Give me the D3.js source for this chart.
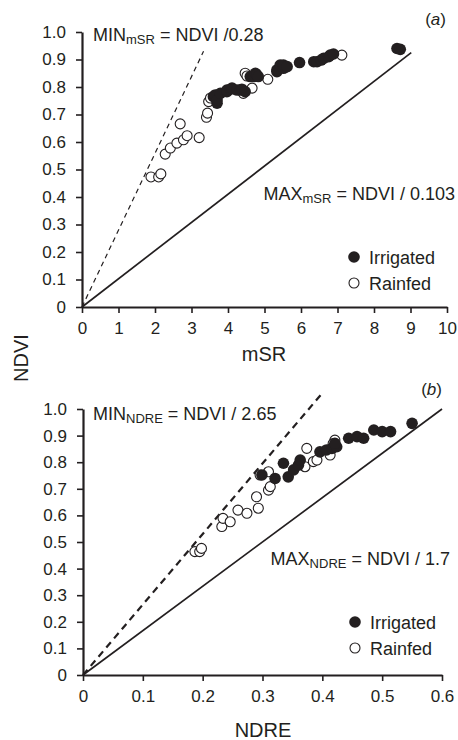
<!DOCTYPE html>
<html>
<head>
<meta charset="utf-8">
<script src="https://cdn.jsdelivr.net/npm/d3@7"></script>
<style>
  body { margin: 0; background: #fff; }
  svg text { font-family: "Liberation Sans", Arial, Helvetica, sans-serif; fill: #231f20; }
  .axis path, .axis line { stroke: #231f20; }
</style>
</head>
<body>
<div id="chart"></div>
<script>
// ---- panel (a): mSR vs NDVI ----
const irrigatedA = [
  [3.60,0.765],[3.65,0.771],[3.70,0.741],[3.70,0.753],[3.79,0.777],[3.97,0.783],[3.97,0.789],
  [4.07,0.792],[4.11,0.796],[4.25,0.789],[4.34,0.789],[4.38,0.792],[4.47,0.783],[4.61,0.838],
  [4.70,0.838],[4.75,0.850],[4.79,0.844],[4.83,0.838],[5.34,0.856],[5.34,0.862],[5.43,0.880],
  [5.52,0.868],[5.52,0.880],[5.62,0.874],[5.96,0.889],[6.35,0.892],[6.44,0.892],[6.55,0.898],
  [6.62,0.904],[6.76,0.910],[6.80,0.916],[6.89,0.920],[8.63,0.940],[8.72,0.937]
];
const rainfedA = [
  [1.89,0.473],[2.10,0.473],[2.16,0.484],[2.28,0.556],[2.42,0.578],[2.60,0.596],[2.78,0.608],
  [2.88,0.623],[3.21,0.616],[2.69,0.666],[3.41,0.690],[3.44,0.705],[3.47,0.747],[3.52,0.760],
  [4.42,0.777],[4.47,0.850],[4.66,0.796],[5.09,0.828],[7.12,0.916],[4.52,0.840]
];
const minLineA = [[0,0],[3.33,0.93]];
const maxLineA = [[0,0],[9.02,0.925]];
const xTicksA = [0,1,2,3,4,5,6,7,8,9,10];

// ---- panel (b): NDRE vs NDVI ----
const irrigatedB = [
  [0.299,0.752],[0.321,0.739],[0.335,0.796],[0.343,0.745],[0.352,0.771],[0.360,0.789],[0.363,0.808],
  [0.396,0.839],[0.407,0.846],[0.416,0.852],[0.424,0.858],[0.421,0.871],[0.444,0.890],[0.458,0.896],
  [0.469,0.890],[0.486,0.921],[0.500,0.915],[0.514,0.915],[0.550,0.946]
];
const rainfedB = [
  [0.187,0.464],[0.195,0.464],[0.198,0.476],[0.232,0.558],[0.234,0.589],[0.246,0.576],[0.259,0.620],
  [0.274,0.608],[0.293,0.627],[0.290,0.670],[0.310,0.695],[0.313,0.708],[0.296,0.752],[0.310,0.764],
  [0.371,0.783],[0.374,0.852],[0.385,0.802],[0.391,0.808],[0.413,0.827],[0.421,0.883],[0.418,0.870]
];
const minLineB = [[0,0],[0.40,1.06]];
const maxLineB = [[0,0],[0.60,1.0]];
const xTicksB = [0,0.1,0.2,0.3,0.4,0.5,0.6];

const yTicks = [0,0.1,0.2,0.3,0.4,0.5,0.6,0.7,0.8,0.9,1.0];

const svg = d3.select("#chart").append("svg")
    .attr("width", 458)
    .attr("height", 740);

const yFmt = d => d === 0 ? "0" : d3.format(".1f")(d);
const xFmtB = d => d === 0 ? "0" : d3.format(".1f")(d);

const rFilled = 5.8, rOpen = 5.0;

function drawPanel(p) {
    let x = d3.scaleLinear().domain(p.xDomain).range(p.xRange);
    let y = d3.scaleLinear().domain([0, 1]).range(p.yRange);

    let g = svg.append("g");

    // axes
    let xAxis = d3.axisBottom(x).tickValues(p.xTicks).tickFormat(p.xFmt)
        .tickSize(6).tickSizeOuter(0).tickPadding(9);
    let yAxis = d3.axisLeft(y).tickValues(yTicks).tickFormat(yFmt)
        .tickSize(6).tickSizeOuter(0).tickPadding(10);

    g.append("g").attr("class", "axis")
        .attr("transform", "translate(0," + p.yRange[0] + ")")
        .call(xAxis);
    g.append("g").attr("class", "axis")
        .attr("transform", "translate(" + p.xRange[0] + ",0)")
        .call(yAxis);

    g.selectAll(".axis path").attr("stroke-width", 2.2);
    g.selectAll(".axis line").attr("stroke-width", 1.6);
    g.selectAll(".axis text").attr("font-size", 17).attr("fill", "#231f20")
        .attr("font-family", "'Liberation Sans', Arial, sans-serif");

    // reference lines
    let line = d3.line().x(d => x(d[0])).y(d => y(d[1]));
    g.append("path").datum(p.maxLine)
        .attr("d", line).attr("fill", "none")
        .attr("stroke", "#231f20").attr("stroke-width", 1.7);
    g.append("path").datum(p.minLine)
        .attr("d", line).attr("fill", "none")
        .attr("stroke", "#231f20").attr("stroke-width", p.dashWidth)
        .attr("stroke-dasharray", p.dash);

    // points
    g.selectAll(".rain").data(p.rainfed).enter().append("circle")
        .attr("cx", d => x(d[0])).attr("cy", d => y(d[1])).attr("r", rOpen)
        .attr("fill", "#fff").attr("stroke", "#231f20").attr("stroke-width", 1.1);
    g.selectAll(".irr").data(p.irrigated).enter().append("circle")
        .attr("cx", d => x(d[0])).attr("cy", d => y(d[1])).attr("r", rFilled)
        .attr("fill", "#231f20");

    // annotations
    let minT = g.append("text").attr("x", p.minPos[0]).attr("y", p.minPos[1]).attr("font-size", 18);
    minT.append("tspan").text("MIN");
    minT.append("tspan").attr("font-size", 13).attr("dy", 3).text(p.sub);
    minT.append("tspan").attr("dy", -3).text(p.minText);

    let maxT = g.append("text").attr("x", p.maxPos[0]).attr("y", p.maxPos[1])
        .attr("font-size", 18).attr("text-anchor", "end");
    maxT.append("tspan").text("MAX");
    maxT.append("tspan").attr("font-size", 13).attr("dy", 3).text(p.sub);
    maxT.append("tspan").attr("dy", -3).text(p.maxText);

    let lab = g.append("text").attr("x", p.labPos[0]).attr("y", p.labPos[1])
        .attr("font-size", 17).attr("text-anchor", "end");
    lab.append("tspan").text("(");
    lab.append("tspan").attr("font-style", "italic").text(p.letter);
    lab.append("tspan").text(")");

    // legend
    let lg = g.append("g").attr("transform", "translate(" + p.legPos[0] + "," + p.legPos[1] + ")");
    lg.append("circle").attr("cx", 0).attr("cy", 0).attr("r", rFilled).attr("fill", "#231f20");
    lg.append("text").attr("x", 15).attr("y", 6.5).attr("font-size", 18).text("Irrigated");
    lg.append("circle").attr("cx", 0).attr("cy", 26).attr("r", rOpen)
        .attr("fill", "#fff").attr("stroke", "#231f20").attr("stroke-width", 1.1);
    lg.append("text").attr("x", 15).attr("y", 32.5).attr("font-size", 18).text("Rainfed");

    // x-axis title
    g.append("text").attr("x", p.titlePos[0]).attr("y", p.titlePos[1])
        .attr("font-size", 20).attr("text-anchor", "middle").text(p.xTitle);
}

drawPanel({
    xDomain: [0, 10], xRange: [82, 447], yRange: [307, 32],
    xTicks: xTicksA, xFmt: d3.format("d"),
    irrigated: irrigatedA, rainfed: rainfedA,
    minLine: minLineA, maxLine: maxLineA,
    dash: "5,4", dashWidth: 1.2,
    sub: "mSR", minText: " = NDVI /0.28", maxText: " = NDVI / 0.103",
    minPos: [93, 41], maxPos: [455, 200], labPos: [446, 25], letter: "a",
    legPos: [354, 257], titlePos: [264, 361], xTitle: "mSR"
});

drawPanel({
    xDomain: [0, 0.6], xRange: [83, 442], yRange: [675, 409],
    xTicks: xTicksB, xFmt: xFmtB,
    irrigated: irrigatedB, rainfed: rainfedB,
    minLine: minLineB, maxLine: maxLineB,
    dash: "7,5", dashWidth: 2.2,
    sub: "NDRE", minText: " = NDVI / 2.65", maxText: " = NDVI / 1.7",
    minPos: [93, 420], maxPos: [450, 565], labPos: [442, 395], letter: "b",
    legPos: [355, 622], titlePos: [263, 737], xTitle: "NDRE"
});

// shared y-axis title
svg.append("text")
    .attr("transform", "translate(28,358) rotate(-90)")
    .attr("font-size", 20).attr("text-anchor", "middle")
    .text("NDVI");
</script>
</body>
</html>
